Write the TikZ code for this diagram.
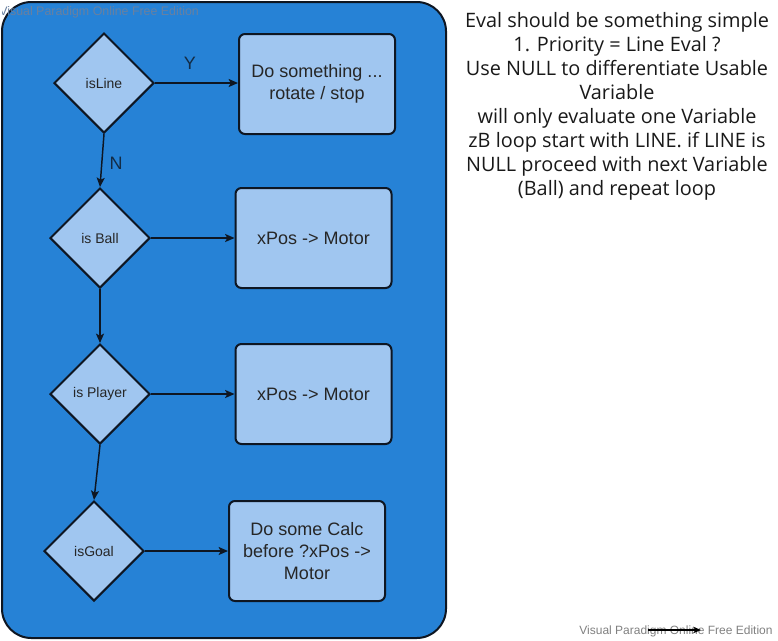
\documentclass[tikz,border=0pt]{standalone}
\usepackage{fontspec}
\setmainfont{Liberation Sans}
\newfontfamily\notefont{Open Sans}
\usetikzlibrary{shapes.geometric,arrows.meta}
\definecolor{panelblue}{RGB}{38,130,214}
\definecolor{lightbox}{RGB}{160,198,240}
\definecolor{edgedark}{RGB}{14,22,34}
\definecolor{wmgrey}{RGB}{128,128,128}
\definecolor{wmblue}{RGB}{105,128,160}
\tikzset{
  decision/.style={diamond, draw=edgedark, line width=1.5pt, fill=lightbox,
    minimum width=75pt, minimum height=75pt, inner sep=0pt, aspect=1,
    font=\fontsize{10.5pt}{12pt}\selectfont, text=black!85},
  actionbox/.style={rectangle, rounded corners=4.5pt, draw=edgedark, line width=1.5pt,
    fill=lightbox, minimum width=117pt, minimum height=75pt, inner sep=0pt,
    align=center, font=\fontsize{13.5pt}{16.5pt}\selectfont, text=black!85},
  flow/.style={draw=edgedark, line width=1.1pt, -{Stealth[length=7pt,width=6pt,inset=1.5pt]}},
  lbl/.style={font=\fontsize{13.5pt}{15pt}\selectfont, text=edgedark!80!panelblue},
}
\begin{document}
\begin{tikzpicture}[x=0.75pt,y=-0.75pt]
\useasboundingbox (0,0) rectangle (778,640);
% panel
\node[draw=edgedark, line width=1.5pt, fill=panelblue, rounded corners=22pt,
  minimum width=333pt, minimum height=477pt, inner sep=0pt] (panel) at (224,320) {};
% watermark top-left
\begin{scope}
\clip (2,2) rectangle (446,638);
\node[anchor=west, inner sep=0pt, text=wmblue, font=\fontsize{9.3pt}{10pt}\selectfont] (wm1) at (-1,12) {Visual Paradigm Online Free Edition};
\end{scope}
% decisions
\node[decision] (isline) at (104,83) {isLine};
\node[decision] (isball) at (100,238) {is Ball};
\node[decision] (isplayer) at (100,394) {is Player};
\node[decision] (isgoal) at (94,551) {isGoal};
% actions
\node[actionbox] (act1) at (317,84) {Do something ...\\rotate / stop};
\node[actionbox] (act2) at (313.5,238) {xPos -> Motor};
\node[actionbox] (act3) at (313.5,394) {xPos -> Motor};
\node[actionbox] (act4) at (307,551) {Do some Calc\\before ?xPos ->\\Motor};
% connectors
\draw[flow] (isline.east) -- (isline.east -| act1.west);
\draw[flow] (isball.east) -- (act2.west);
\draw[flow] (isplayer.east) -- (act3.west);
\draw[flow] (isgoal.east) -- (act4.west);
\draw[flow] (isline.south) -- (isball.north);
\draw[flow] (isball.south) -- (isplayer.north);
\draw[flow] (isplayer.south) -- (isgoal.north);
\node[lbl] (ylbl) at (190,63) {Y};
\node[lbl] (nlbl) at (116,163) {N};
% note
\node[align=center, inner sep=0pt, font=\notefont\fontsize{14.9pt}{18pt}\selectfont, text=black!90] (note) at (617,106)
{Eval should be something simple\\
1. Priority = Line Eval ?\\
Use NULL to differentiate Usable\\
Variable\\
will only evaluate one Variable\\
zB loop start with LINE. if LINE is\\
NULL proceed with next Variable\\
(Ball) and repeat loop};
% bottom watermark
\node[inner sep=0pt, text=wmgrey, font=\fontsize{9pt}{10pt}\selectfont] (wm2) at (676,631) {Visual Paradigm Online Free Edition};
\coordinate (s1) at (648,630);
\coordinate (s2) at (701,630);
\draw[draw=black, line width=0.8pt, -{Stealth[length=6pt,width=5pt]}] (s1) -- (s2);
\end{tikzpicture}
\end{document}
